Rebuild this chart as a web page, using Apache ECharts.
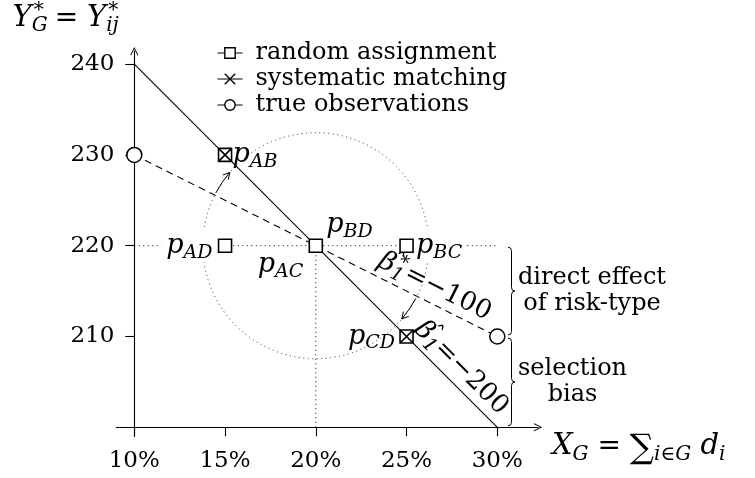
<!DOCTYPE html>
<html><head><meta charset="utf-8">
<script src="https://cdn.jsdelivr.net/npm/echarts@6/dist/echarts.min.js"></script>
<style>html,body{margin:0;padding:0;background:#fff}#c{width:755px;height:478px}</style>
</head><body><div id="c"></div>
<script>
// ---------------- data ----------------
const xTickValues = [10, 15, 20, 25, 30];
const yTickValues = [210, 220, 230, 240];
const solidLine = [[10, 240], [30, 200]];
const dashedLine = [[10, 230], [30, 210]];
const dottedH = [[10, 220], [30, 220]];
const dottedV = [[20, 200], [20, 220]];
const circleCenter = [[20, 220]];
const randomPts = [[15, 230], [15, 220], [20, 220], [25, 220], [25, 210]];
const systematicPts = [[15, 230], [25, 210]];
const truePts = [[10, 230], [30, 210]];
const pNames = ['AB', 'AD', 'BD', 'AC', 'BC', 'CD'];
const pPoints = [[15, 230], [15, 220], [20, 220], [20, 220], [25, 220], [25, 210]];
const braceRanges = [[220, 210], [210, 200]];
const braceTexts = ['direct effect\nof risk-type', 'selection\nbias'];
const betaValues = ['-200', '-100'];
const seriesNames = ['random assignment', 'systematic matching', 'true observations'];

// ---------------- layout / style ----------------
const F = 'DejaVu Serif';
const XMIN = 9, XMAX = 32.24, YMIN = 199, YMAX = 241.42;
const PX_X10 = 134.3, PX_PER_X = 18.15, PX_Y200 = 427.3, PX_PER_Y = 9.08;
const gridLeft = PX_X10 + (XMIN - 10) * PX_PER_X;
const gridTop = PX_Y200 - (YMAX - 200) * PX_PER_Y;
const gridW = (XMAX - XMIN) * PX_PER_X;
const gridH = (YMAX - YMIN) * PX_PER_Y;
const R = 113; // dotted circle radius in px
const ARROW = 'path://M5,0 L10,10 L9.1,10.7 L5,2.6 L0.9,10.7 L0,10 Z';
const XSYM = 'path://M0,0 L10,10 M10,0 L0,10';

function makeRich(main, sub) {
  const L = 'left';
  return {
    m: {fontFamily: F, fontStyle: 'italic', fontSize: main, lineHeight: main + 6, color: '#000', align: L},
    r: {fontFamily: F, fontSize: main - 1, lineHeight: main + 6, color: '#000', align: L},
    sb: {fontFamily: F, fontStyle: 'italic', fontSize: sub, lineHeight: sub - 4, verticalAlign: 'bottom', color: '#000', align: L},
    sb0: {fontFamily: F, fontStyle: 'italic', fontSize: sub, lineHeight: sub - 4, verticalAlign: 'bottom', width: 0.1, color: '#000', align: L},
    sp: {fontFamily: F, fontSize: sub, lineHeight: sub + 2, verticalAlign: 'top', color: '#000', padding: [0, 2, 0, 2], align: L},
    hat0: {fontFamily: F, fontSize: sub + 4, lineHeight: 8, verticalAlign: 'top', width: 0.1, color: '#000', align: L},
    big: {fontFamily: F, fontSize: main + 5, lineHeight: main + 6, color: '#000', padding: [4, 0, 0, 0], align: L}
  };
}
const richLabel = makeRich(27, 19);
const richName = makeRich(29, 20);
const pLabelStyle = {
  AB: {position: 'right', distance: 1},
  AD: {position: 'left', distance: 0, backgroundColor: '#fff', padding: [0, 6, 0, 5]},
  BD: {position: 'right', distance: 4, offset: [0, -21]},
  AC: {position: 'left', distance: 6, offset: [0, 19]},
  BC: {position: 'right', distance: 0, backgroundColor: '#fff', padding: [0, 4, 0, 3]},
  CD: {position: 'left', distance: 5}
};

const mctx = document.createElement('canvas').getContext('2d');
mctx.font = '24px "DejaVu Serif"';
function textW(t) { return Math.max.apply(null, t.split('\n').map(l => mctx.measureText(l).width)); }
function minus(s) { return s.replace('-', '\u2212'); }
const BETAHAT = '{hat0|\u2002\u02c6}{m|\u03b2}';
function subSup(sub) { return '{sb0|' + sub + '}{sp|*}'; }

const chart = echarts.init(document.getElementById('c'), null, {renderer: 'canvas'});
const option = {
  animation: false,
  backgroundColor: '#fff',
  grid: {left: gridLeft, top: gridTop, width: gridW, height: gridH, containLabel: false, outerBoundsMode: 'none'},
  legend: {
    left: 212, top: 36, orient: 'vertical', itemWidth: 25, itemHeight: 13, itemGap: 2,
    data: seriesNames, selectedMode: false,
    textStyle: {fontFamily: F, fontSize: 24, color: '#000', padding: [0, 0, 0, 8], lineHeight: 24},
    lineStyle: {color: '#000', width: 1, opacity: 1, type: 'solid'},
    itemStyle: {borderWidth: 1.4, borderColor: '#000'}
  },
  xAxis: {
    type: 'value', min: XMIN, max: XMAX, offset: -(200 - YMIN) * PX_PER_Y,
    name: '{m|X}{sb|G}{r| = }{big|\u2211}{sb|i\u2208G}{m| d}{sb|i}',
    nameLocation: 'end', nameGap: 14,
    nameTextStyle: {rich: richName, align: 'left', verticalAlign: 'top', padding: [2, 0, 0, 0]},
    axisLine: {show: true, onZero: false, symbol: ['none', ARROW], symbolSize: [8, 9], lineStyle: {color: '#000', width: 1.1}},
    axisTick: {show: true, customValues: xTickValues, length: 9, lineStyle: {color: '#000', width: 1.1}},
    axisLabel: {customValues: xTickValues, formatter: v => v + '%', fontFamily: F, fontSize: 23, color: '#000', margin: 22},
    splitLine: {show: false}
  },
  yAxis: {
    type: 'value', min: YMIN, max: YMAX, offset: -(10 - XMIN) * PX_PER_X,
    name: '{m|Y}' + subSup('G') + '{r| = }{m|Y}' + subSup('ij'),
    nameLocation: 'end', nameGap: 15,
    nameTextStyle: {rich: richName, align: 'right', verticalAlign: 'bottom', padding: [0, 14, 0, 0]},
    axisLine: {show: true, onZero: false, symbol: ['none', ARROW], symbolSize: [8, 9], lineStyle: {color: '#000', width: 1.1}},
    axisTick: {show: true, customValues: yTickValues, length: 9, lineStyle: {color: '#000', width: 1.1}},
    axisLabel: {customValues: yTickValues, fontFamily: F, fontSize: 23, color: '#000', margin: 20},
    splitLine: {show: false}
  },
  series: [
    { // dotted circle
      type: 'scatter', data: circleCenter, symbol: 'circle', symbolSize: 2 * R, silent: true, z: 1,
      itemStyle: {color: 'rgba(0,0,0,0)', borderColor: '#000', borderWidth: 1, borderType: [1, 3.5]}
    },
    {type: 'line', data: dottedH, symbol: 'none', silent: true, z: 1, lineStyle: {color: '#000', width: 1, type: [1, 3.5]}},
    {type: 'line', data: dottedV, symbol: 'none', silent: true, z: 1, lineStyle: {color: '#000', width: 1, type: [1, 3.5]}},
    { // solid beta1 line
      type: 'line', data: solidLine, symbol: 'none', silent: true, z: 2,
      lineStyle: {color: '#000', width: 1.1},
      markLine: {
        silent: true, symbol: ['none', 'none'], animation: false,
        lineStyle: {color: 'rgba(0,0,0,0)', width: 0},
        data: [[{coord: solidLine[0]}, {coord: solidLine[1]}]],
        label: {show: true, position: 'insideEndTop', distance: [7, 0], color: '#000', textBorderWidth: 0,
          formatter: BETAHAT + '{sb|1}{r|=' + minus(betaValues[0]) + '}', rich: richLabel}
      }
    },
    { // dashed beta1* line
      type: 'line', data: dashedLine, symbol: 'none', silent: true, z: 2,
      lineStyle: {color: '#000', width: 1.1, type: [7, 5]},
      markLine: {
        silent: true, symbol: ['none', 'none'], animation: false,
        lineStyle: {color: 'rgba(0,0,0,0)', width: 0},
        data: [[{coord: dashedLine[0]}, {coord: dashedLine[1]}]],
        label: {show: true, position: 'insideEndTop', distance: [17, 0], color: '#000', textBorderWidth: 0,
          formatter: BETAHAT + subSup('1') + '{r|=' + minus(betaValues[1]) + '}', rich: richLabel}
      }
    },
    { // curved arrows along the circle
      type: 'custom', data: circleCenter, silent: true, z: 3,
      renderItem: function (params, api) {
        const c = api.coord([api.value(0), api.value(1)]);
        const d0 = api.coord(dashedLine[0]), d1 = api.coord(dashedLine[1]);
        const s0 = api.coord(solidLine[0]), s1 = api.coord(solidLine[1]);
        const td = Math.atan2(d1[1] - d0[1], d1[0] - d0[0]);
        const ts = Math.atan2(s1[1] - s0[1], s1[0] - s0[0]);
        const children = [];
        [0, Math.PI].forEach(function (off) {
          const a0 = td + off + 0.025, a1 = ts + off - 0.08;
          children.push({type: 'arc', shape: {cx: c[0], cy: c[1], r: R, startAngle: a0, endAngle: a1, clockwise: true},
            style: {stroke: '#000', fill: 'none', lineWidth: 1}});
          const tip = [c[0] + R * Math.cos(a1), c[1] + R * Math.sin(a1)];
          const dir = [-Math.sin(a1), Math.cos(a1)];
          const nrm = [-dir[1], dir[0]];
          const L = 6.5, W = 3.6;
          const bk = [tip[0] - dir[0] * L, tip[1] - dir[1] * L];
          children.push({type: 'polyline', shape: {points: [[bk[0] + nrm[0] * W, bk[1] + nrm[1] * W], tip, [bk[0] - nrm[0] * W, bk[1] - nrm[1] * W]]},
            style: {stroke: '#000', fill: 'none', lineWidth: 1}});
        });
        return {type: 'group', children: children};
      }
    },
    { // braces
      type: 'custom', data: braceRanges, silent: true, z: 3,
      renderItem: function (params, api) {
        const xr = xTickValues[xTickValues.length - 1];
        const p0 = api.coord([xr, api.value(0)]);
        const p1 = api.coord([xr, api.value(1)]);
        const w = 7, h = w / 2;
        const x0 = p0[0] + 10.7, y0 = p0[1] + 1.5, y1 = p1[1] - 1.5, ym = (y0 + y1) / 2;
        const d = 'M' + x0 + ' ' + y0 + ' Q' + (x0 + h) + ' ' + y0 + ' ' + (x0 + h) + ' ' + (y0 + h) +
          ' L' + (x0 + h) + ' ' + (ym - h) + ' Q' + (x0 + h) + ' ' + ym + ' ' + (x0 + w) + ' ' + ym +
          ' Q' + (x0 + h) + ' ' + ym + ' ' + (x0 + h) + ' ' + (ym + h) +
          ' L' + (x0 + h) + ' ' + (y1 - h) + ' Q' + (x0 + h) + ' ' + y1 + ' ' + x0 + ' ' + y1;
        const txt = braceTexts[params.dataIndex];
        const tw = textW(txt);
        return {type: 'group', children: [
          {type: 'path', shape: {pathData: d}, style: {stroke: '#000', fill: 'none', lineWidth: 1}},
          {type: 'text', style: {text: txt, x: x0 + w + 3 + tw / 2, y: ym, align: 'center', verticalAlign: 'middle',
            fontFamily: F, fontSize: 24, lineHeight: 26, fill: '#000'}}
        ]};
      }
    },
    { // point labels
      type: 'scatter', silent: true, z: 4, symbol: 'rect', symbolSize: 13,
      itemStyle: {color: 'rgba(0,0,0,0)', borderWidth: 0},
      data: pPoints.map(function (p, i) {
        return {value: p, label: Object.assign({show: true, color: '#000', opacity: 1, textBorderWidth: 0,
          formatter: '{m|p}{sb|' + pNames[i] + '}', rich: richLabel}, pLabelStyle[pNames[i]])};
      })
    },
    {
      name: seriesNames[2], type: 'line', data: truePts, symbol: 'circle', symbolSize: 15, showSymbol: true, z: 5,
      lineStyle: {width: 0, opacity: 0}, itemStyle: {color: '#fff', borderColor: '#000', borderWidth: 1.5}
    },
    {
      name: seriesNames[0], type: 'line', data: randomPts, symbol: 'rect', symbolSize: 13, showSymbol: true, z: 5,
      lineStyle: {width: 0, opacity: 0}, itemStyle: {color: '#fff', borderColor: '#000', borderWidth: 1.6}
    },
    {
      name: seriesNames[1], type: 'line', data: systematicPts, symbol: XSYM, symbolSize: 12, showSymbol: true, z: 6,
      lineStyle: {width: 0, opacity: 0}, itemStyle: {color: 'rgba(0,0,0,0)', borderColor: '#000', borderWidth: 1.6}
    }
  ]
};
chart.setOption(option);
</script></body></html>
